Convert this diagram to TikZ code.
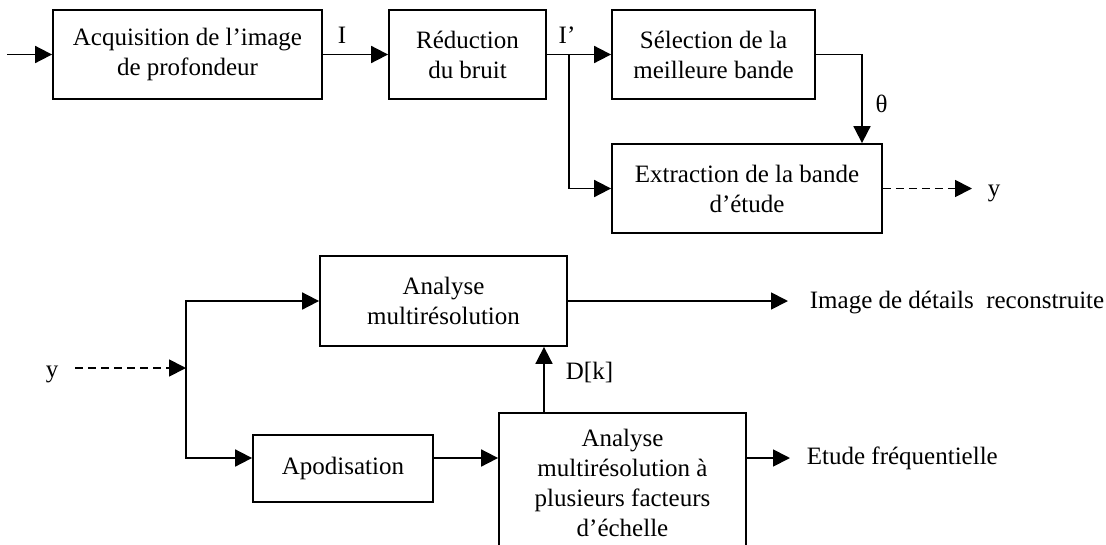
\documentclass[tikz,border=0pt]{standalone}
\usepackage{fontspec}
\setmainfont{Liberation Serif}
\usetikzlibrary{arrows.meta}

\begin{document}
\begin{tikzpicture}[x=1pt, y=-1pt, line width=1.8pt,
  every node/.style={font=\fontsize{25}{30}\selectfont},
  block/.style={draw, align=center, inner sep=0pt},
  lbl/.style={inner sep=0pt},
  flow/.style={-{Triangle[length=17pt,width=17pt]}},
  dflow/.style={flow, dash pattern=on 8pt off 5pt}]
  \clip (0,0) rectangle (1106,544);
  \node [block, minimum width=269pt, minimum height=89pt] (acq) at (187.5,54.5) {Acquisition de l’image\\de profondeur};
  \node [block, minimum width=157pt, minimum height=89pt] (red) at (467.5,54.5) {Réduction\\du bruit};
  \node [block, minimum width=203pt, minimum height=89pt] (sel) at (713.5,54.5) {Sélection de la\\meilleure bande};
  \node [block, minimum width=270pt, minimum height=89pt] (ext) at (747,188.5) {Extraction de la bande\\d’étude};
  \node [block, minimum width=247pt, minimum height=90pt] (mra) at (443.5,301) {Analyse\\multirésolution};
  \node [block, minimum width=180pt, minimum height=67pt] (apod) at (343,468.5) {Apodisation};
  \node [block, minimum width=247pt, minimum height=140pt] (multi) at (622.5,483) {Analyse\\multirésolution à\\plusieurs facteurs\\d’échelle};
  \node [lbl] (lI) at (342,35) {I};
  \node [lbl] (lIp) at (567,35) {I’};
  \node [lbl] (theta) at (881.5,104) {θ};
  \node [lbl] (yout) at (994,193) {y};
  \node [lbl] (yin) at (52,374) {y};
  \node [lbl, anchor=west] (dk) at (565,372) {D[k]};
  \node [lbl, anchor=west] (recon) at (809,303) {Image de détails\ \ reconstruite};
  \node [lbl, anchor=west] (freq) at (806,458) {Etude fréquentielle};
  \coordinate (src) at (7,54.5);
  \coordinate (fork) at (569,54.5);
  \coordinate (bend) at (862,54.5);
  \coordinate (yend) at (972,188.5);
  \coordinate (split) at (186,368);
  \coordinate (dkfoot) at (544,413);
  \coordinate (recend) at (788,301);
  \coordinate (freqend) at (790,458);
  \draw [flow] (src) -- (acq);
  \draw [flow] (acq) -- (red);
  \draw [flow] (red) -- (sel);
  \draw [flow] (fork) |- (ext);
  \draw [flow] (sel) -- (bend) -- (bend |- ext.north);
  \draw [dflow] (ext) -- (yend);
  \draw [dflow, shorten <=16pt] (yin.east |- split) -- (split);
  \draw [flow] (split) |- (mra);
  \draw [flow] (split) |- ([yshift=10.5pt]apod.west);
  \draw [flow] ([yshift=10.5pt]apod.east) -- ([yshift=10.5pt]apod.east -| multi.west);
  \draw [flow] (dkfoot) -- (dkfoot |- mra.south);
  \draw [flow] (mra) -- (recend);
  \draw [flow] (freqend -| multi.east) -- (freqend);
\end{tikzpicture}
\end{document}
